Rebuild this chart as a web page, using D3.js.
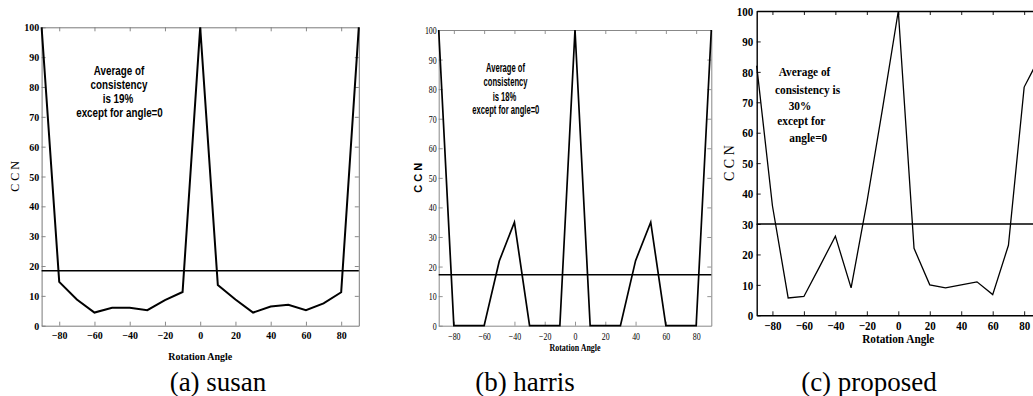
<!DOCTYPE html>
<html>
<head>
<meta charset="utf-8">
<script src="https://cdn.jsdelivr.net/npm/d3@7/dist/d3.min.js"></script>
<style>
  html, body { margin: 0; padding: 0; background: #fff; }
  svg { display: block; }
</style>
</head>
<body>
<svg id="chart" width="1033" height="396"></svg>
<script>
// ---------------- DATA ----------------
const angles = [-90, -80, -70, -60, -50, -40, -30, -20, -10, 0, 10, 20, 30, 40, 50, 60, 70, 80, 90];
const xTickValues = [-80, -60, -40, -20, 0, 20, 40, 60, 80];
const yTickValues = [0, 10, 20, 30, 40, 50, 60, 70, 80, 90, 100];

const susanCCN    = [100, 14.7, 8.8, 4.4, 6.0, 6.0, 5.2, 8.6, 11.3, 100, 13.6, 8.8, 4.4, 6.4, 7.0, 5.2, 7.5, 11.2, 100];
const harrisCCN   = [100, 0, 0, 0, 21.9, 35, 0, 0, 0, 100, 0, 0, 0, 22, 35, 0, 0, 0, 100];
const proposedCCN = [82, 36, 5.7, 6.2, 16, 26, 9, 37, 68, 100, 22, 10, 9, 10, 11, 6.8, 23, 75, 85];

const susanAverage = 18.4;
const harrisAverage = 17.2;
const proposedAverage = 30;

const susanNote    = ["Average of", "consistency", "is 19%", "except for angle=0"];
const harrisNote   = ["Average of", "consistency", "is 18%", "except for angle=0"];
const proposedNote = ["Average of", "consistency is", "30%", "except for", "angle=0"];

const captions = ["(a) susan", "(b) harris", "(c) proposed"];
const xAxisTitle = "Rotation Angle";
const yAxisTitle = "C C N";

// ---------------- LAYOUT / STYLE ----------------
const serif = "Liberation Serif, Times New Roman, serif";
const sans = "Liberation Sans, Arial, sans-serif";

const panels = [
  {
    values: susanCCN, avg: susanAverage, note: susanNote, caption: captions[0],
    left: 41.6, right: 358.8, top: 27.3, bottom: 325.7,
    frame: "#7a7a7a", frameW: 1, lineW: 2, avgW: 1.6,
    tickFont: { family: serif, size: 10.5, weight: "bold", sx: 0.95 },
    xLabelDy: 13.4, yLabelDx: -2.4,
    xTitle: { y: 360, size: 10.5, weight: "bold", family: serif, sx: 0.95 },
    yTitle: { x: 15, size: 12, weight: "normal", family: serif },
    noteFont: { family: sans, size: 12, weight: "bold", sx: 0.82 },
    noteX: [119, 119, 118, 119.5], noteY: [75, 89, 103, 117],
    captionX: 218
  },
  {
    values: harrisCCN, avg: harrisAverage, note: harrisNote, caption: captions[1],
    left: 438.7, right: 711.3, top: 30, bottom: 325.7,
    frame: "#888888", frameW: 1, lineW: 1.7, avgW: 1.5,
    tickFont: { family: serif, size: 10.5, weight: "normal", sx: 0.75 },
    xLabelDy: 14.3, yLabelDx: -2,
    xTitle: { y: 351, size: 10.5, weight: "bold", family: serif, sx: 0.76 },
    yTitle: { x: 418, size: 11, weight: "bold", family: sans },
    noteFont: { family: sans, size: 12, weight: "bold", sx: 0.635 },
    noteX: [505.5, 505.5, 504.5, 505.8], noteY: [72, 86, 100.5, 113.5],
    captionX: 525
  },
  {
    values: proposedCCN, avg: proposedAverage, note: proposedNote, caption: captions[2],
    left: 756.7, right: 1039.9, top: 11, bottom: 315.3,
    frame: "#000000", frameW: 1.4, lineW: 1.3, avgW: 1.5,
    tickFont: { family: serif, size: 12.5, weight: "bold", sx: 0.88 },
    xLabelDy: 14.7, yLabelDx: -3.4,
    xTitle: { y: 343, size: 12.5, weight: "bold", family: serif, sx: 0.9 },
    yTitle: { x: 729, size: 14, weight: "normal", family: serif },
    noteFont: { family: serif, size: 13.5, weight: "bold", sx: 0.84 },
    noteX: [804.5, 807.5, 800, 801.3, 808.3], noteY: [76, 94, 109.5, 124.5, 141.5],
    captionX: 869
  }
];

const svg = d3.select("#chart");

function styleText(sel, f) {
  sel.attr("font-family", f.family)
     .attr("font-size", f.size)
     .attr("font-weight", f.weight)
     .style("font-family", f.family)
     .attr("fill", "#000");
}

panels.forEach(p => {
  const x = d3.scaleLinear().domain([-90, 90]).range([p.left, p.right]);
  const y = d3.scaleLinear().domain([0, 100]).range([p.bottom, p.top]);
  const g = svg.append("g");
  const tf = p.tickFont;

  // Bottom axis (inward ticks + labels)
  const gx = g.append("g").attr("transform", `translate(0,${p.bottom})`)
    .call(d3.axisBottom(x).tickValues(xTickValues).tickSize(-4).tickSizeOuter(0).tickFormat(d3.format("d")));
  gx.attr("font-family", null).attr("font-size", null);
  gx.selectAll("text")
    .attr("y", p.xLabelDy).attr("dy", null).attr("x", 0)
    .attr("transform", `scale(${tf.sx},1)`)
    .call(styleText, tf);

  // Left axis
  const gy = g.append("g").attr("transform", `translate(${p.left},0)`)
    .call(d3.axisLeft(y).tickValues(yTickValues).tickSize(-4).tickSizeOuter(0));
  gy.attr("font-family", null).attr("font-size", null);
  gy.selectAll("text")
    .attr("x", p.yLabelDx / tf.sx).attr("dy", "0.34em")
    .attr("transform", `scale(${tf.sx},1)`)
    .call(styleText, tf);

  // Top axis (ticks only)
  g.append("g").attr("transform", `translate(0,${p.top})`)
    .call(d3.axisTop(x).tickValues(xTickValues).tickSize(-4).tickSizeOuter(0).tickFormat(""));

  // Right axis (ticks only)
  g.append("g").attr("transform", `translate(${p.right},0)`)
    .call(d3.axisRight(y).tickValues(yTickValues.slice(1, -1)).tickSize(-4).tickSizeOuter(0).tickFormat(""));

  g.selectAll(".domain").attr("stroke", p.frame).attr("stroke-width", p.frameW);
  g.selectAll(".tick line").attr("stroke", p.frame).attr("stroke-width", 0.9);

  // Average line
  g.append("line")
    .attr("x1", x(-90)).attr("x2", x(90))
    .attr("y1", y(p.avg)).attr("y2", y(p.avg))
    .attr("stroke", "#000").attr("stroke-width", p.avgW);

  // Data line
  const pts = angles.map((a, i) => [a, p.values[i]]);
  g.append("path")
    .datum(pts)
    .attr("fill", "none")
    .attr("stroke", "#000")
    .attr("stroke-width", p.lineW)
    .attr("stroke-linejoin", "miter")
    .attr("d", d3.line().x(d => x(d[0])).y(d => y(d[1])));

  // Axis titles
  const xt = p.xTitle;
  g.append("text")
    .attr("transform", `translate(${(p.left + Math.min(p.right, 1040)) / 2},${xt.y}) scale(${xt.sx},1)`)
    .attr("text-anchor", "middle")
    .text(xAxisTitle)
    .call(styleText, xt);

  const yt = p.yTitle;
  g.append("text")
    .attr("transform", `translate(${yt.x},${(p.top + p.bottom) / 2}) rotate(-90)`)
    .attr("text-anchor", "middle")
    .attr("dy", "0.35em")
    .text(yAxisTitle)
    .call(styleText, yt);

  // Annotation
  const nf = p.noteFont;
  p.note.forEach((line, i) => {
    g.append("text")
      .attr("transform", `translate(${p.noteX[i]},${p.noteY[i]}) scale(${nf.sx},1)`)
      .attr("text-anchor", "middle")
      .text(line)
      .call(styleText, nf);
  });

  // Caption
  svg.append("text")
    .attr("x", p.captionX).attr("y", 391)
    .attr("text-anchor", "middle")
    .text(p.caption)
    .call(styleText, { family: serif, size: 27, weight: "normal" });
});
</script>
</body>
</html>
